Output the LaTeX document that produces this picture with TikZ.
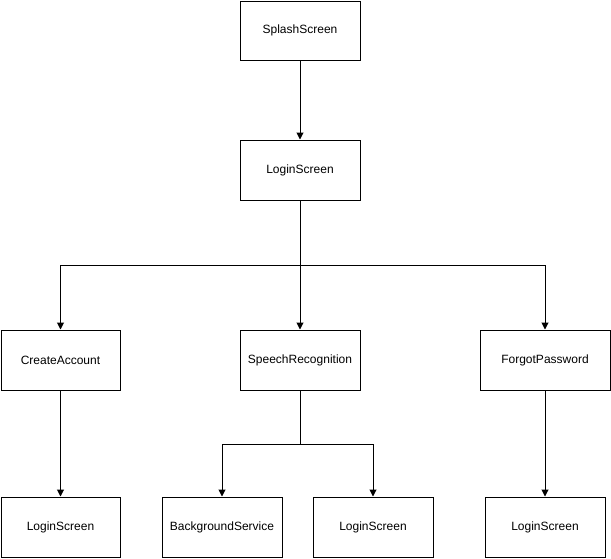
\documentclass[tikz,border=0pt]{standalone}
\usepackage{fontspec}
\setmainfont{Liberation Sans}
\usetikzlibrary{arrows.meta}
\begin{document}
\begin{tikzpicture}[x=1pt,y=-1pt,line width=1pt,
  screen/.style={draw, minimum width=120pt, minimum height=60pt, inner sep=0pt,
    font=\fontsize{12}{14}\selectfont},
  link/.style={-{Triangle[width=7pt,length=7pt]}}]
\useasboundingbox (0,0) rectangle (611,558);

% screens
\node[screen, minimum height=59pt] (splash) at (300,30.5) {SplashScreen};
\node[screen] (login) at (300,170) {LoginScreen};
\node[screen, minimum width=119pt] (create) at (60.5,360) {CreateAccount};
\node[screen] (speech) at (300,360) {SpeechRecognition};
\node[screen, minimum width=130pt] (forgot) at (545,360) {ForgotPassword};
\node[screen, minimum width=119pt] (loginA) at (60.5,527) {LoginScreen};
\node[screen] (bgservice) at (222,527) {BackgroundService};
\node[screen] (loginB) at (373,527) {LoginScreen};
\node[screen] (loginC) at (545,527) {LoginScreen};

% branch points
\coordinate (fork1) at (300,265);
\coordinate (fork2) at (300,444);

% connectors
\draw[link] (splash) -- (login);
\draw (login.south) -- (fork1);
\draw[link] (fork1) -| (create.north);
\draw[link] (fork1) -- (speech.north);
\draw[link] (fork1) -| (forgot.north);
\draw[link] (create) -- (loginA);
\draw (speech.south) -- (fork2);
\draw[link] (fork2) -| (bgservice.north);
\draw[link] (fork2) -| (loginB.north);
\draw[link] (forgot) -- (loginC);
\end{tikzpicture}
\end{document}
